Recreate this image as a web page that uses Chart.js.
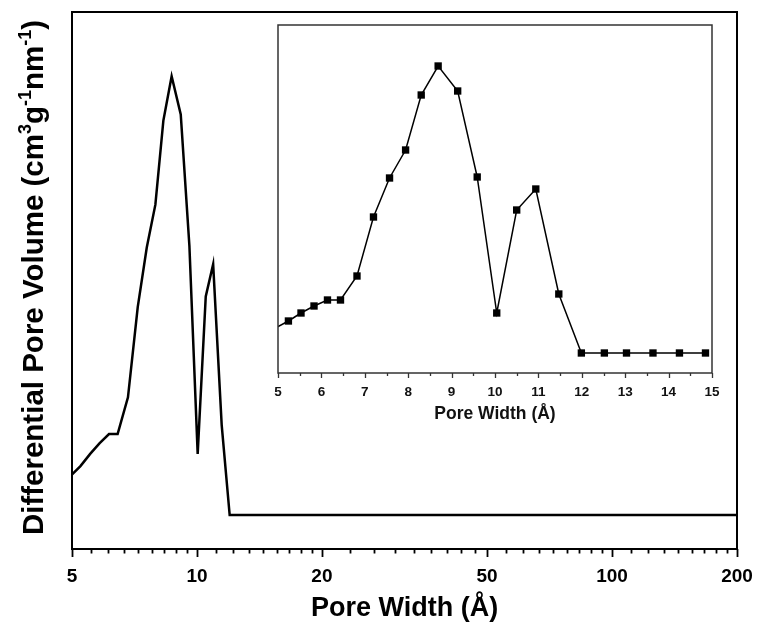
<!DOCTYPE html>
<html>
<head>
<meta charset="utf-8">
<title>Pore size distribution</title>
<script src="https://cdn.jsdelivr.net/npm/chart.js@4.4.1/dist/chart.umd.min.js"></script>
<style>
  html, body { margin: 0; padding: 0; background: #fff; }
  #wrap { position: relative; width: 759px; height: 625px; }
  #main { position: absolute; left: 0; top: 0; }
  #inset { position: absolute; left: 250px; top: 0; }
</style>
</head>
<body>
<div id="wrap">
  <canvas id="main" width="759" height="625"></canvas>
  <canvas id="inset" width="490" height="430"></canvas>
</div>
<script>
// pore width (Å) and differential pore volume (arb. units)
const poreWidth = [4.85, 5.24, 5.53, 5.83, 6.14, 6.44, 6.82, 7.20, 7.57, 7.94, 8.30, 8.69, 9.14, 9.59,
  10.04, 10.50, 10.94, 11.47, 11.99, 12.52, 13.03, 13.64, 14.25, 14.85,
  15.47, 16.7, 18.2, 20.1, 22.5, 25.6, 29.9, 35.5, 43.1, 54.0, 69.6, 92.6, 128.2, 200];
const poreVolume = [43, 52, 60, 67, 73, 73, 97, 156, 195, 223, 278, 307, 282, 196,
  60, 163, 184, 79, 20, 20, 20, 20, 20, 20,
  20, 20, 20, 20, 20, 20, 20, 20, 20, 20, 20, 20, 20, 20];

// axis ticks
const mainMajorTicks = [5, 10, 20, 50, 100, 200];
const mainMinorPerDecade = 8;
const insetMajorTicks = [5, 6, 7, 8, 9, 10, 11, 12, 13, 14, 15];

const FONT = "'Liberation Sans', Arial, sans-serif";

const mainPoints = poreWidth.map((x, i) => ({ x: x, y: poreVolume[i] }));
const insetPoints = mainPoints.filter(p => p.x <= 15);

// frame around the plot area + outward tick marks on the x axis
const frameTicks = {
  id: 'frameTicks',
  afterDraw(chart, args, opts) {
    const ctx = chart.ctx;
    const a = chart.chartArea;
    const xs = chart.scales.x;
    ctx.save();
    ctx.strokeStyle = opts.color;
    ctx.lineWidth = opts.tickWidth;
    ctx.beginPath();
    xs.ticks.forEach(t => {
      const px = Math.round(xs.getPixelForValue(t.value)) + 0.5;
      const len = t.major ? opts.majorLen : opts.minorLen;
      ctx.moveTo(px, a.bottom);
      ctx.lineTo(px, a.bottom + len);
    });
    ctx.stroke();
    ctx.lineWidth = opts.frameWidth;
    ctx.strokeRect(a.left, a.top, a.right - a.left, a.bottom - a.top);
    ctx.restore();
  }
};

// rotated y title with superscripts
const yTitle = {
  id: 'yTitle',
  afterDraw(chart, args, opts) {
    if (!opts.parts) return;
    const ctx = chart.ctx;
    const a = chart.chartArea;
    const base = 'bold ' + opts.size + 'px ' + FONT;
    const sup = 'bold ' + opts.supSize + 'px ' + FONT;
    ctx.save();
    let total = 0;
    opts.parts.forEach(p => {
      ctx.font = p.sup ? sup : base;
      total += ctx.measureText(p.text).width;
    });
    ctx.translate(opts.x, (a.top + a.bottom) / 2 + opts.shift);
    ctx.rotate(-Math.PI / 2);
    ctx.fillStyle = '#000';
    ctx.textBaseline = 'alphabetic';
    let x = -total / 2;
    opts.parts.forEach(p => {
      ctx.font = p.sup ? sup : base;
      ctx.fillText(p.text, x, p.sup ? opts.baseline - opts.raise : opts.baseline);
      x += ctx.measureText(p.text).width;
    });
    ctx.restore();
  }
};

Chart.register(frameTicks, yTitle);

new Chart(document.getElementById('main'), {
  type: 'line',
  data: {
    datasets: [{
      data: mainPoints,
      borderColor: '#000',
      borderWidth: 2.5,
      pointRadius: 0,
      tension: 0,
      clip: 0
    }]
  },
  options: {
    responsive: false,
    devicePixelRatio: 1,
    animation: false,
    layout: { padding: { left: 72, right: 22, top: 12, bottom: 0 } },
    plugins: {
      legend: { display: false },
      tooltip: { enabled: false },
      frameTicks: { color: '#000', tickWidth: 1.8, majorLen: 8, minorLen: 4.5, frameWidth: 2 },
      yTitle: {
        x: 33, size: 29.5, supSize: 18, raise: 12, baseline: 10, shift: -3,
        parts: [
          { text: 'Differential Pore Volume (cm' },
          { text: '3', sup: true },
          { text: 'g' },
          { text: '-1', sup: true },
          { text: 'nm' },
          { text: '-1', sup: true },
          { text: ')' }
        ]
      }
    },
    scales: {
      x: {
        type: 'logarithmic',
        min: 5,
        max: 200,
        afterBuildTicks: (axis) => {
          const ticks = [];
          mainMajorTicks.forEach((v, i) => {
            ticks.push({ value: v, major: true });
            const next = mainMajorTicks[i + 1];
            if (next === undefined) return;
            const step = (next - v) / (mainMinorPerDecade + 1);
            for (let k = 1; k <= mainMinorPerDecade; k++) ticks.push({ value: v + k * step, major: false });
          });
          axis.ticks = ticks;
        },
        afterFit: (axis) => {
          axis.height = 76;
          axis.paddingLeft = 0;
          axis.paddingRight = 0;
        },
        grid: { display: false, drawTicks: false },
        border: { display: false },
        ticks: {
          autoSkip: false,
          maxRotation: 0,
          padding: 16,
          color: '#000',
          font: { family: FONT, size: 19, weight: 'bold' },
          callback: (v, i, ticks) => ticks[i].major ? String(v) : ''
        },
        title: {
          display: true,
          text: 'Pore Width (Å)',
          color: '#000',
          padding: { top: 0, bottom: 0 },
          font: { family: FONT, size: 27, weight: 'bold' }
        }
      },
      y: {
        min: -2.2,
        max: 349,
        afterFit: (axis) => { axis.width = 0; },
        grid: { display: false, drawTicks: false },
        border: { display: false },
        ticks: { display: false }
      }
    }
  }
});

new Chart(document.getElementById('inset'), {
  type: 'line',
  data: {
    datasets: [{
      data: insetPoints,
      borderColor: '#000',
      borderWidth: 1.5,
      pointStyle: 'rect',
      pointRadius: 5.2,
      pointBackgroundColor: '#000',
      pointBorderWidth: 0,
      tension: 0,
      clip: 0
    }]
  },
  options: {
    responsive: false,
    devicePixelRatio: 1,
    animation: false,
    layout: { padding: { left: 28, right: 28, top: 25, bottom: 0 } },
    plugins: {
      legend: { display: false },
      tooltip: { enabled: false },
      frameTicks: { color: '#333', tickWidth: 1.3, majorLen: 5, minorLen: 3, frameWidth: 1.5 },
      yTitle: {}
    },
    scales: {
      x: {
        type: 'linear',
        min: 5,
        max: 15,
        afterBuildTicks: (axis) => {
          const ticks = [];
          insetMajorTicks.forEach((v, i) => {
            ticks.push({ value: v, major: true });
            if (i < insetMajorTicks.length - 1) ticks.push({ value: v + 0.5, major: false });
          });
          axis.ticks = ticks;
        },
        afterFit: (axis) => {
          axis.height = 57;
          axis.paddingLeft = 0;
          axis.paddingRight = 0;
        },
        grid: { display: false, drawTicks: false },
        border: { display: false },
        ticks: {
          autoSkip: false,
          maxRotation: 0,
          padding: 11,
          color: '#111',
          font: { family: FONT, size: 13.5, weight: 'bold' },
          callback: (v, i, ticks) => ticks[i].major ? String(v) : ''
        },
        title: {
          display: true,
          text: 'Pore Width (Å)',
          color: '#111',
          padding: { top: 0, bottom: 5 },
          font: { family: FONT, size: 17.5, weight: 'bold' }
        }
      },
      y: {
        min: 0,
        max: 348,
        afterFit: (axis) => { axis.width = 0; },
        grid: { display: false, drawTicks: false },
        border: { display: false },
        ticks: { display: false }
      }
    }
  }
});
</script>
</body>
</html>
